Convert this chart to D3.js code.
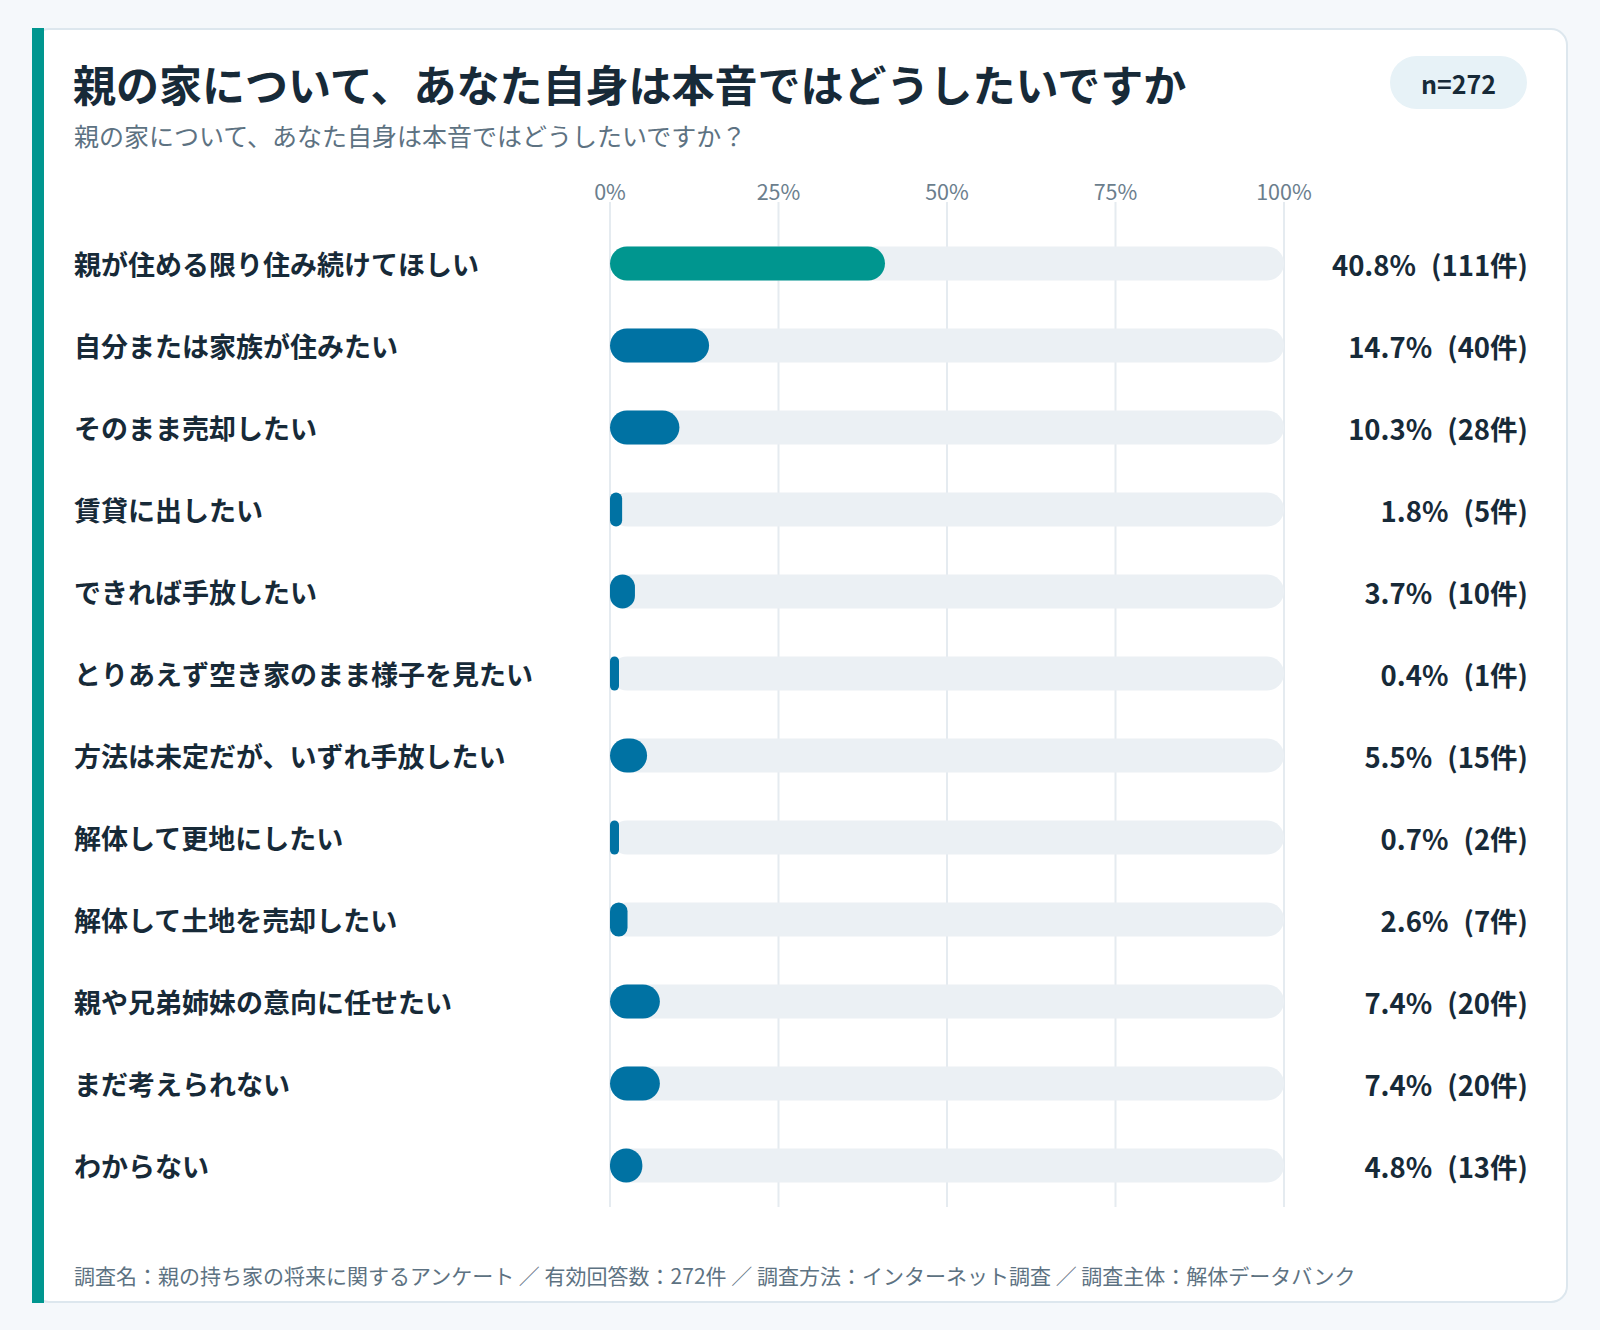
<!DOCTYPE html>
<html lang="ja">
<head>
<meta charset="utf-8">
<script src="https://cdn.jsdelivr.net/npm/d3@7"></script>
<style>
  html, body { margin: 0; padding: 0; background: #f5f8fb; }
  svg { display: block; font-family: "Noto Sans CJK JP", "Noto Sans", sans-serif; }
</style>
</head>
<body>
<div id="chart"></div>
<script>
const categories = [
  "親が住める限り住み続けてほしい",
  "自分または家族が住みたい",
  "そのまま売却したい",
  "賃貸に出したい",
  "できれば手放したい",
  "とりあえず空き家のまま様子を見たい",
  "方法は未定だが、いずれ手放したい",
  "解体して更地にしたい",
  "解体して土地を売却したい",
  "親や兄弟姉妹の意向に任せたい",
  "まだ考えられない",
  "わからない"
];
const percents = [40.8, 14.7, 10.3, 1.8, 3.7, 0.4, 5.5, 0.7, 2.6, 7.4, 7.4, 4.8];
const counts = [111, 40, 28, 5, 10, 1, 15, 2, 7, 20, 20, 13];
const tickValues = [0, 25, 50, 75, 100];

const title = "親の家について、あなた自身は本音ではどうしたいですか";
const subtitle = "親の家について、あなた自身は本音ではどうしたいですか？";
const sampleLabel = "n=272";
const footnote = "調査名：親の持ち家の将来に関するアンケート ／ 有効回答数：272件 ／ 調査方法：インターネット調査 ／ 調査主体：解体データバンク";

const width = 1600;
const height = 1330;
const BAR_HEIGHT = 34;
const MIN_BAR = 9;

const svg = d3.select("#chart")
  .append("svg")
  .attr("width", width)
  .attr("height", height);

// card
svg.append("rect")
  .attr("x", 33).attr("y", 29)
  .attr("width", 1534).attr("height", 1273)
  .attr("rx", 16)
  .attr("fill", "#ffffff")
  .attr("stroke", "#dde7ee")
  .attr("stroke-width", 2);

svg.append("rect")
  .attr("x", 32).attr("y", 28)
  .attr("width", 12).attr("height", 1275)
  .attr("fill", "#00968f");

// header
svg.append("text")
  .attr("x", 73).attr("y", 102)
  .attr("font-size", 43)
  .attr("font-weight", 700)
  .attr("fill", "#172a38")
  .text(title);

svg.append("text")
  .attr("x", 74).attr("y", 146)
  .attr("font-size", 25)
  .attr("fill", "#5d7282")
  .text(subtitle);

svg.append("rect")
  .attr("x", 1390).attr("y", 56)
  .attr("width", 137).attr("height", 53)
  .attr("rx", 26.5)
  .attr("fill", "#e7f2f7");

svg.append("text")
  .attr("x", 1458.5).attr("y", 83)
  .attr("text-anchor", "middle")
  .attr("dominant-baseline", "central")
  .attr("font-size", 25)
  .attr("font-weight", 700)
  .attr("fill", "#172a38")
  .text(sampleLabel);

// scales
const x = d3.scaleLinear().domain([0, 100]).range([610, 1284]);
const y = d3.scaleBand().domain(categories).range([222.5, 1206.5]).padding(0);
const cy = d => y(d) + y.bandwidth() / 2;

// grid + tick labels
const grid = svg.append("g");
grid.selectAll("line")
  .data(tickValues)
  .enter()
  .append("line")
  .attr("x1", d => x(d)).attr("x2", d => x(d))
  .attr("y1", 202).attr("y2", 1207)
  .attr("stroke", "#e5ebf0")
  .attr("stroke-width", 2);

grid.selectAll("text")
  .data(tickValues)
  .enter()
  .append("text")
  .attr("x", d => x(d))
  .attr("y", 200)
  .attr("text-anchor", "middle")
  .attr("font-size", 21.5)
  .attr("fill", "#6b7e8d")
  .text(d => d + "%");

// rows
const rows = svg.selectAll("g.row")
  .data(categories.map((c, i) => ({ cat: c, pct: percents[i], n: counts[i], i: i })))
  .enter()
  .append("g")
  .attr("class", "row");

rows.append("text")
  .attr("x", 74)
  .attr("y", d => cy(d.cat))
  .attr("dominant-baseline", "central")
  .attr("font-size", 27)
  .attr("font-weight", 700)
  .attr("fill", "#172a38")
  .text(d => d.cat);

// track
rows.append("rect")
  .attr("x", x(0))
  .attr("y", d => cy(d.cat) - BAR_HEIGHT / 2)
  .attr("width", x(100) - x(0))
  .attr("height", BAR_HEIGHT)
  .attr("rx", BAR_HEIGHT / 2)
  .attr("fill", "#ebf0f4");

// value bar
rows.append("rect")
  .attr("x", x(0))
  .attr("y", d => cy(d.cat) - BAR_HEIGHT / 2)
  .attr("width", d => Math.max(x(d.pct) - x(0), MIN_BAR))
  .attr("height", BAR_HEIGHT)
  .attr("rx", d => Math.min(BAR_HEIGHT / 2, Math.max(x(d.pct) - x(0), MIN_BAR) / 2))
  .attr("fill", d => d.i === 0 ? "#00968f" : "#0072a3");

const valueText = rows.append("text")
  .attr("x", 1528)
  .attr("y", d => cy(d.cat))
  .attr("text-anchor", "end")
  .attr("dominant-baseline", "central")
  .attr("font-size", 27.5)
  .attr("font-weight", 700)
  .attr("fill", "#172a38");

valueText.append("tspan").text(d => `${d.pct.toFixed(1)}%`);
valueText.append("tspan").attr("dx", 15).text(d => `(${d.n}件)`);

// footnote
svg.append("text")
  .attr("x", 74).attr("y", 1284)
  .attr("font-size", 21)
  .attr("fill", "#5d7282")
  .text(footnote);
</script>
</body>
</html>
